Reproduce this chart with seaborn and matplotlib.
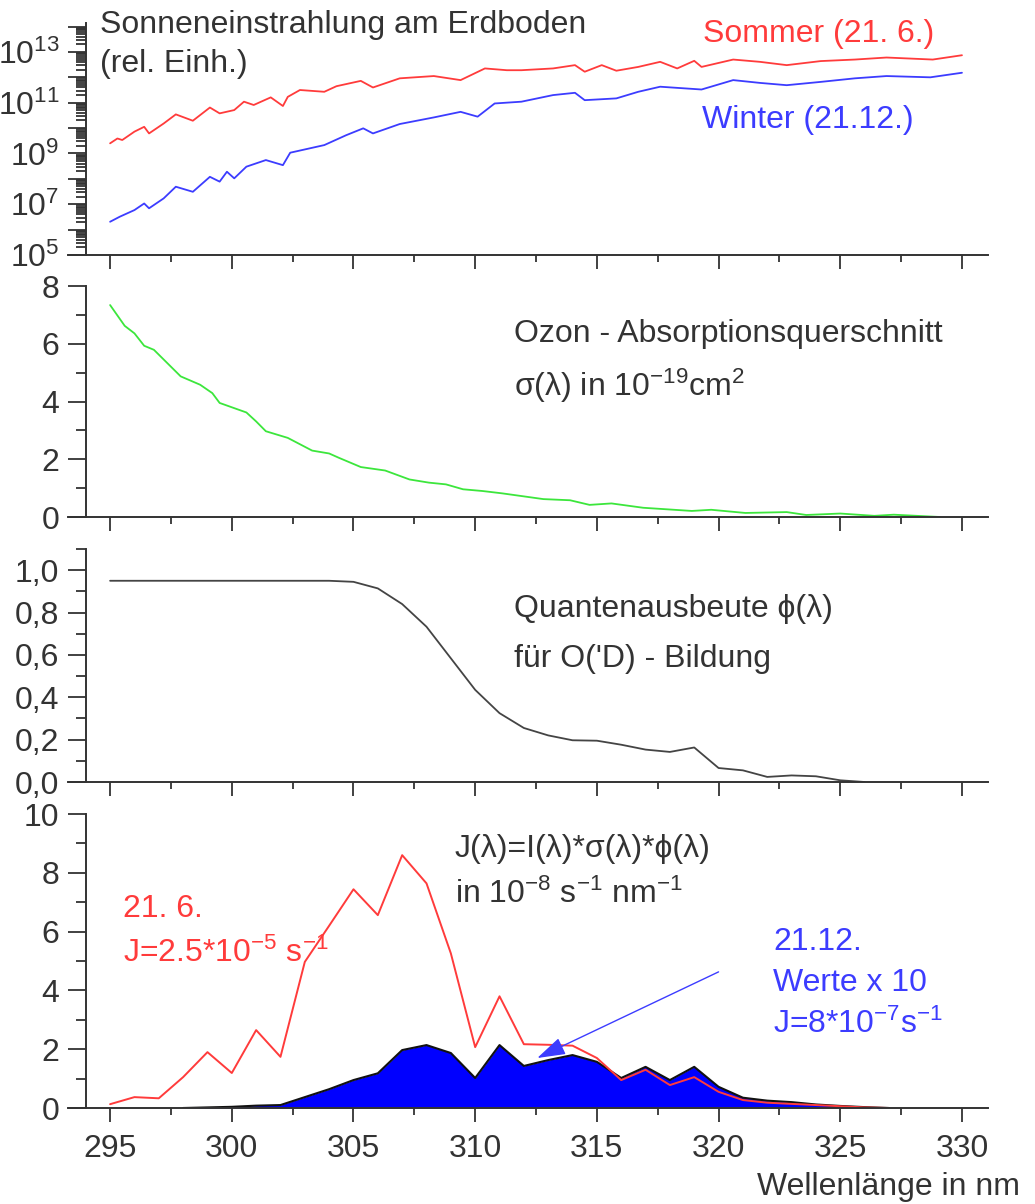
import numpy as np
import pandas as pd
import matplotlib
matplotlib.use('Agg')
import matplotlib.pyplot as plt
from matplotlib.ticker import MultipleLocator, FixedLocator, FuncFormatter, LogLocator, NullFormatter
import seaborn as sns

# --- Sonneneinstrahlung (log10 der rel. Einheiten) ---
sommer_wl = [295.0, 295.3, 295.5, 296.0, 296.4, 296.6, 297.2, 297.7, 298.4, 299.1,
             299.5, 300.1, 300.5, 300.9, 301.6, 302.1, 302.3, 302.8, 303.8, 304.3,
             305.3, 305.8, 306.9, 308.3, 309.4, 310.4, 311.3, 311.9, 313.2, 314.1,
             314.5, 315.2, 315.8, 316.7, 317.6, 318.3, 319.0, 319.3, 320.6, 321.7,
             322.8, 324.2, 325.6, 326.9, 328.8, 330.0]
sommer_lg = [9.40, 9.59, 9.53, 9.86, 10.05, 9.79, 10.18, 10.54, 10.29, 10.81,
             10.58, 10.71, 11.04, 10.91, 11.21, 10.87, 11.23, 11.50, 11.43, 11.65,
             11.86, 11.60, 11.96, 12.05, 11.89, 12.35, 12.28, 12.28, 12.35, 12.48,
             12.22, 12.48, 12.26, 12.41, 12.61, 12.35, 12.65, 12.41, 12.70, 12.61,
             12.48, 12.64, 12.70, 12.78, 12.70, 12.87]
winter_wl = [295.0, 295.4, 296.0, 296.4, 296.6, 297.2, 297.7, 298.4, 299.1, 299.5,
             299.8, 300.1, 300.6, 301.4, 302.1, 302.4, 303.8, 304.7, 305.4, 305.8,
             306.9, 308.3, 309.4, 310.1, 310.8, 311.9, 313.2, 314.1, 314.5, 315.8,
             316.7, 317.6, 319.3, 320.6, 321.7, 322.8, 324.2, 325.6, 326.9, 328.7,
             330.0]
winter_lg = [6.31, 6.51, 6.77, 7.03, 6.84, 7.23, 7.69, 7.49, 8.08, 7.89,
             8.28, 8.02, 8.48, 8.74, 8.54, 9.03, 9.33, 9.72, 9.99, 9.79,
             10.16, 10.42, 10.64, 10.45, 10.97, 11.04, 11.30, 11.39, 11.10, 11.17,
             11.43, 11.63, 11.52, 11.89, 11.78, 11.69, 11.82, 11.96, 12.05, 12.00,
             12.18]

# --- Ozon-Absorptionsquerschnitt in 1e-19 cm^2 ---
o3_wl = [295.0, 295.6, 296.0, 296.4, 296.8, 297.9, 298.7, 299.2, 299.5, 300.6,
         301.0, 301.4, 302.3, 303.3, 304.0, 304.4, 305.3, 306.3, 307.3, 308.1,
         308.8, 309.5, 310.3, 311.1, 312.8, 313.9, 314.7, 315.6, 316.9, 318.9,
         319.7, 321.1, 322.8, 323.6, 325.0, 326.4, 327.2, 329.1]
o3_sigma = [7.34, 6.62, 6.36, 5.93, 5.79, 4.87, 4.58, 4.29, 3.95, 3.62,
            3.31, 2.97, 2.74, 2.30, 2.20, 2.05, 1.73, 1.61, 1.30, 1.19,
            1.13, 0.96, 0.90, 0.82, 0.62, 0.58, 0.42, 0.47, 0.32, 0.21,
            0.25, 0.14, 0.17, 0.07, 0.12, 0.04, 0.08, 0.0]

# --- Quantenausbeute ---
phi_wl = [295, 304, 305, 306, 307, 308, 309, 310, 311, 312, 313, 314, 315,
          316, 317, 318, 319, 320, 321, 322, 323, 324, 325, 326]
phi = [0.95, 0.95, 0.945, 0.914, 0.84, 0.733, 0.584, 0.435, 0.325, 0.255, 0.22, 0.197, 0.195,
       0.176, 0.153, 0.142, 0.163, 0.066, 0.055, 0.024, 0.031, 0.027, 0.008, 0.0]

# --- Photolysefrequenz J in 1e-8 s^-1 nm^-1 ---
j_sommer_wl = list(range(295, 328))
j_sommer = [0.13, 0.37, 0.33, 1.05, 1.90, 1.19, 2.65, 1.74, 4.97, 6.20,
            7.44, 6.56, 8.60, 7.64, 5.26, 2.07, 3.80, 2.17, 2.15, 2.12,
            1.70, 0.95, 1.30, 0.78, 1.05, 0.55, 0.27, 0.18, 0.14, 0.10,
            0.06, 0.02, 0.0]
j_winter_wl = list(range(298, 328))
j_winter10 = [0.0, 0.02, 0.04, 0.08, 0.10, 0.37, 0.64, 0.95, 1.18, 1.97,
              2.14, 1.87, 1.02, 2.14, 1.43, 1.63, 1.80, 1.57, 1.02, 1.40,
              0.95, 1.40, 0.72, 0.35, 0.25, 0.20, 0.12, 0.07, 0.03, 0.0]

INK = '#333333'
RED = '#ff3b3b'
BLUE = '#3c3cff'
GREEN = '#3ce63c'
FS = 23

sns.set_style('ticks')
plt.rcParams['font.family'] = ['Liberation Sans', 'DejaVu Sans']
plt.rcParams['mathtext.fontset'] = 'custom'
plt.rcParams['mathtext.rm'] = 'Liberation Sans'
plt.rcParams['mathtext.default'] = 'regular'
plt.rcParams['text.color'] = INK

W, H = 1035, 1204
fig = plt.figure(figsize=(W / 100, H / 100), dpi=100)


def box(top, bottom):
    return [68 / W, 1 - bottom / H, 920 / W, (bottom - top) / H]


def style(ax, xlabels=False):
    ax.set_xlim(293.27, 331.07)
    ax.spines['top'].set_visible(False)
    ax.spines['right'].set_visible(False)
    ax.spines['left'].set_position(('data', 294.0))
    for s in ['left', 'bottom']:
        ax.spines[s].set_color(INK)
        ax.spines[s].set_linewidth(1.4)
    ax.xaxis.set_major_locator(MultipleLocator(5))
    ax.xaxis.set_minor_locator(MultipleLocator(2.5))
    ax.tick_params(axis='both', which='both', direction='out', color=INK,
                   width=1.3, labelcolor=INK, labelsize=FS)
    ax.tick_params(axis='x', which='major', length=10, pad=9)
    ax.tick_params(axis='x', which='minor', length=5)
    ax.tick_params(axis='y', which='major', length=13, pad=6)
    ax.tick_params(axis='y', which='minor', length=7)
    ax.tick_params(axis='x', labelbottom=xlabels)
    ax.set_xlabel('')
    ax.set_ylabel('')
    ax.grid(False)


def ftxt(px, py, s, **kw):
    fig.text(px / W, 1 - py / H, s, va='baseline', fontsize=FS, **kw)


# Panel 1: Sonneneinstrahlung
ax1 = fig.add_axes(box(23, 255))
sns.lineplot(x=sommer_wl, y=10 ** np.array(sommer_lg), ax=ax1, color=RED, lw=1.3)
sns.lineplot(x=winter_wl, y=10 ** np.array(winter_lg), ax=ax1, color=BLUE, lw=1.3)
ax1.set_yscale('log')
ax1.set_ylim(1e5, 10 ** 14.14)
exps = np.arange(5, 15)
ax1.yaxis.set_major_locator(FixedLocator(10.0 ** exps))
ax1.yaxis.set_major_formatter(FuncFormatter(
    lambda v, p: '10$^{%d}$' % round(np.log10(v)) if round(np.log10(v)) % 2 == 1 else ''))
ax1.yaxis.set_minor_locator(LogLocator(base=10, subs=np.arange(2, 10), numticks=50))
ax1.yaxis.set_minor_formatter(NullFormatter())
style(ax1)

# Panel 2: Ozon
ax2 = fig.add_axes(box(286, 517))
sns.lineplot(x=o3_wl, y=o3_sigma, ax=ax2, color=GREEN, lw=1.3)
ax2.set_ylim(0, 8)
ax2.yaxis.set_major_locator(MultipleLocator(2))
ax2.yaxis.set_minor_locator(MultipleLocator(1))
style(ax2)

# Panel 3: Quantenausbeute
ax3 = fig.add_axes(box(549, 782))
sns.lineplot(x=phi_wl, y=phi, ax=ax3, color='#444444', lw=1.3)
ax3.set_ylim(0, 1.1)
ax3.yaxis.set_major_locator(MultipleLocator(0.2))
ax3.yaxis.set_minor_locator(MultipleLocator(0.1))
ax3.yaxis.set_major_formatter(FuncFormatter(lambda v, p: f'{v:.1f}'.replace('.', ',')))
style(ax3)

# Panel 4: J
ax4 = fig.add_axes(box(814, 1108))
ax4.fill_between(j_winter_wl, j_winter10, color='#0000ff', lw=0)
sns.lineplot(x=j_winter_wl, y=j_winter10, ax=ax4, color='#111111', lw=1.5)
sns.lineplot(x=j_sommer_wl, y=j_sommer, ax=ax4, color=RED, lw=1.4)
ax4.set_ylim(0, 10)
ax4.yaxis.set_major_locator(MultipleLocator(2))
ax4.yaxis.set_minor_locator(MultipleLocator(1))
style(ax4, xlabels=True)
ax4.annotate('', xy=(312.55, 1.70), xytext=(320.0, 4.63),
             arrowprops=dict(arrowstyle='-|>,head_length=0.7,head_width=0.22',
                             color=BLUE, lw=1.0, mutation_scale=25,
                             shrinkA=0, shrinkB=0))

# Beschriftungen
ftxt(100, 33, 'Sonneneinstrahlung am Erdboden')
ftxt(100, 72, '(rel. Einh.)')
ftxt(703, 42, 'Sommer (21. 6.)', color=RED)
ftxt(702, 128, 'Winter (21.12.)', color=BLUE)
ftxt(514, 342, 'Ozon - Absorptionsquerschnitt')
ftxt(514, 396, 'σ(λ) in 10$^{-19}$cm$^{2}$')
ftxt(514, 617, 'Quantenausbeute ϕ(λ)')
ftxt(514, 667, "für O('D) - Bildung")
ftxt(455, 857, 'J(λ)=I(λ)*σ(λ)*ϕ(λ)')
ftxt(455, 903, 'in 10$^{-8}$ s$^{-1}$ nm$^{-1}$')
ftxt(123, 917, '21. 6.', color=RED)
ftxt(123, 962, 'J=2.5*10$^{-5}$ s$^{-1}$', color=RED)
ftxt(773, 950, '21.12.', color=BLUE)
ftxt(773, 991, 'Werte x 10', color=BLUE)
ftxt(773, 1033, 'J=8*10$^{-7}$s$^{-1}$', color=BLUE)
ftxt(1020, 1195, 'Wellenlänge in nm', ha='right')

fig.savefig('out.png', dpi=100, facecolor='white')
